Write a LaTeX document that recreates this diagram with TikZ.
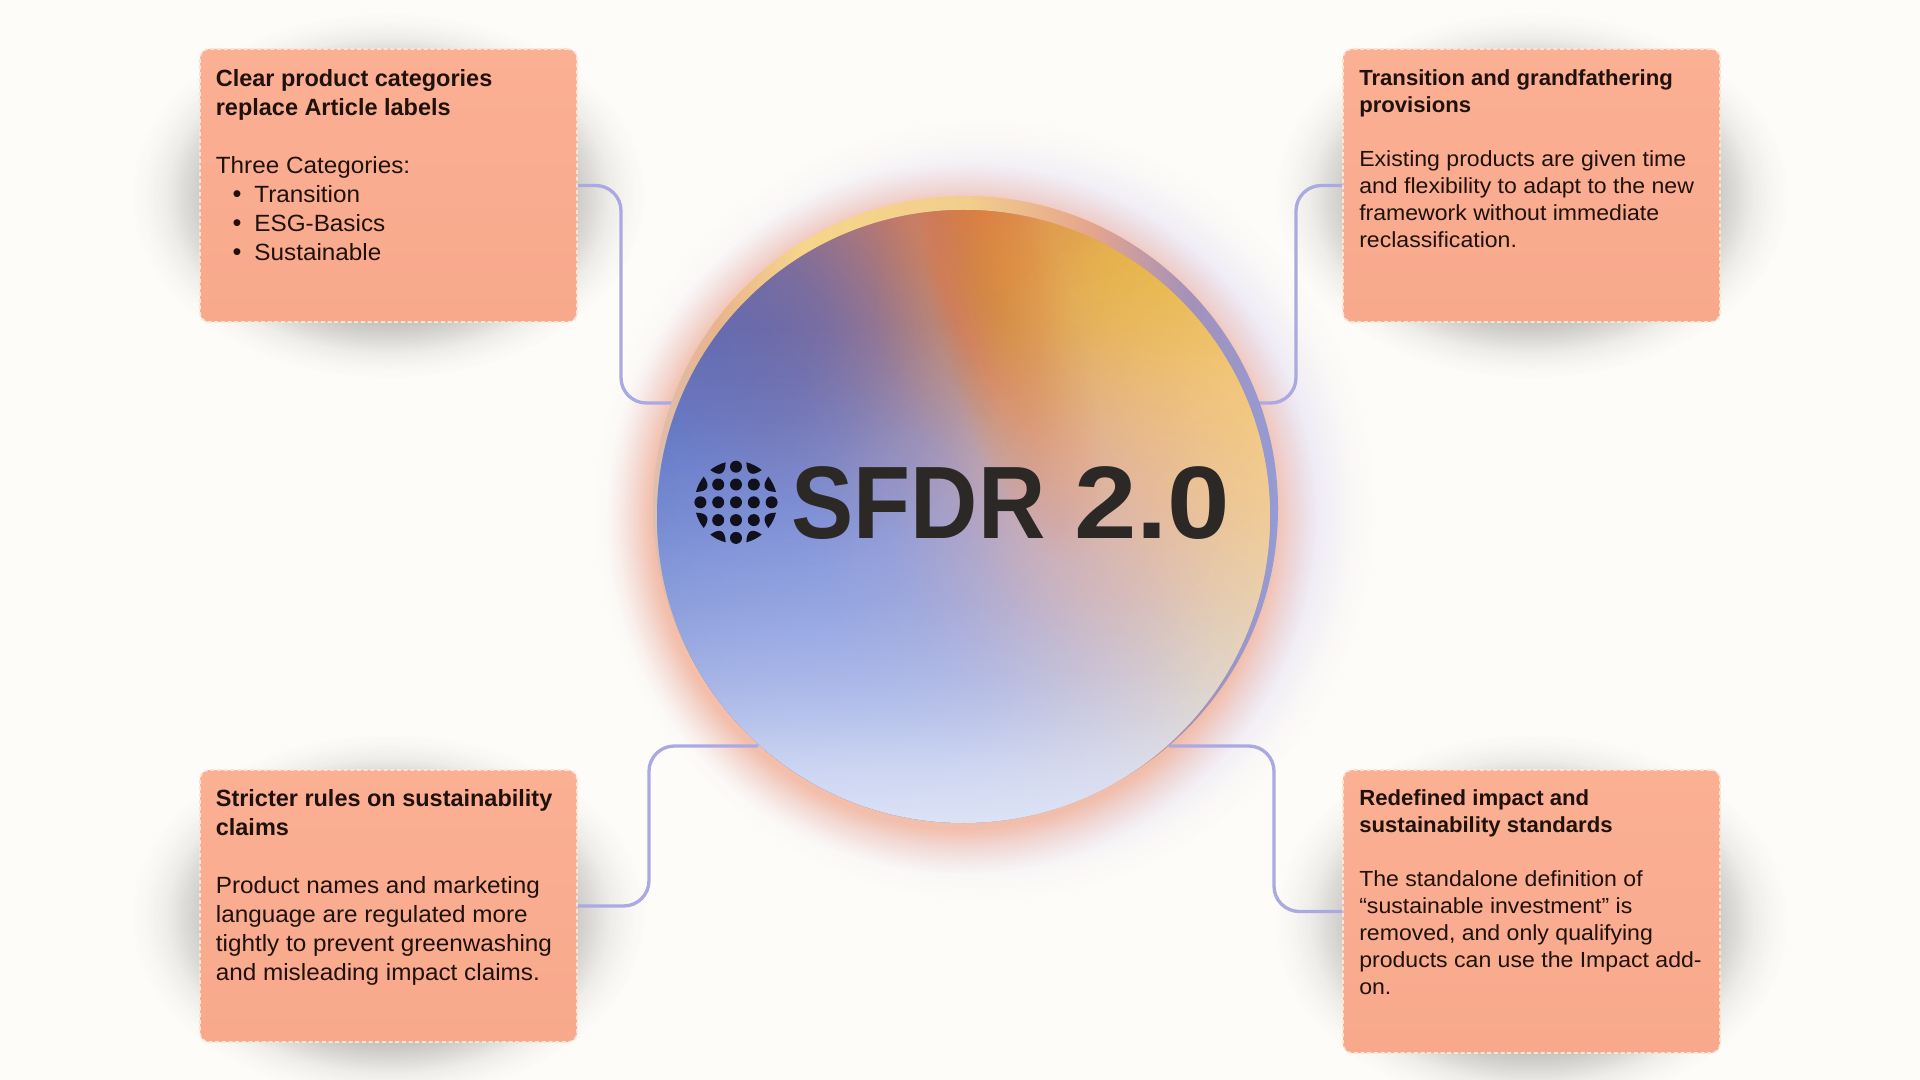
\documentclass[tikz,border=0pt]{standalone}
\usepackage{fontspec}
\usetikzlibrary{fadings,calc}
\setmainfont{Liberation Sans}
\newfontfamily\bodyf[FakeStretch=1.035]{Liberation Sans}
\newfontfamily\bodyg[FakeStretch=1.055]{Liberation Sans}
\newfontfamily\titlef[FakeStretch=1.0]{Liberation Sans}
\newfontfamily\titleg[FakeStretch=1.012]{Liberation Sans}
\newfontfamily\herof[FakeStretch=0.905]{Liberation Sans}
\newfontfamily\herog[FakeStretch=1.09]{Liberation Sans}
\definecolor{pagebg}{HTML}{FEFCF8}
\definecolor{wirec}{HTML}{ABA9E2}
\definecolor{cardtop}{HTML}{FBAF93}
\definecolor{cardbot}{HTML}{F8A98C}
\definecolor{carddash}{HTML}{FBE3D6}
\definecolor{inkc}{HTML}{1F110C}
\definecolor{heroc}{HTML}{2B2826}
\definecolor{dotc}{HTML}{10111C}
\definecolor{b0}{HTML}{5872C6}
\definecolor{b1}{HTML}{6C7AC6}
\definecolor{b2}{HTML}{A09CC4}
\definecolor{b3}{HTML}{D8B8A8}
\definecolor{b4}{HTML}{F2D090}
\definecolor{b5}{HTML}{F7D28C}
\definecolor{r0}{HTML}{DDBEB0}
\definecolor{r1}{HTML}{E8B48C}
\definecolor{r2}{HTML}{F6D68A}
\definecolor{r3}{HTML}{F2CE8C}
\definecolor{r4}{HTML}{E6A58C}
\definecolor{r5}{HTML}{A391BA}
\definecolor{r6}{HTML}{959BD5}
\definecolor{blobblue}{HTML}{7088DC}
\definecolor{bloborange}{HTML}{DC7B50}
\definecolor{blobstreak}{HTML}{EA7444}
\definecolor{blobindigo}{HTML}{5A62AE}
\definecolor{blobgold}{HTML}{E8BC42}
\definecolor{blobpeach}{HTML}{F7CC7C}
\definecolor{blobpink}{HTML}{E8A090}
\definecolor{palec}{HTML}{E1E7F8}
\definecolor{glowlav}{HTML}{C8BFF0}
\definecolor{glowora}{HTML}{F4B8A0}
\definecolor{shadowc}{HTML}{4A4A4A}
% fadings
\pgfdeclareradialshading{softgrad}{\pgfpointorigin}{color(0bp)=(pgftransparent!0);color(6bp)=(pgftransparent!12);color(12.5bp)=(pgftransparent!50);color(18bp)=(pgftransparent!82);color(25bp)=(pgftransparent!100);color(50bp)=(pgftransparent!100)}
\pgfdeclarefading{softfade}{\pgfuseshading{softgrad}}
\pgfdeclareradialshading{shadowgrad}{\pgfpointorigin}{color(0bp)=(pgftransparent!0);color(12bp)=(pgftransparent!30);color(16bp)=(pgftransparent!55);color(18bp)=(pgftransparent!67);color(20bp)=(pgftransparent!80);color(21.5bp)=(pgftransparent!90);color(23.5bp)=(pgftransparent!97);color(25bp)=(pgftransparent!100);color(50bp)=(pgftransparent!100)}
\pgfdeclarefading{shadowfade}{\pgfuseshading{shadowgrad}}
\pgfdeclareradialshading{glowagrad}{\pgfpointorigin}{color(0bp)=(pgftransparent!0);color(20bp)=(pgftransparent!0);color(22bp)=(pgftransparent!45);color(23.5bp)=(pgftransparent!82);color(25bp)=(pgftransparent!100);color(50bp)=(pgftransparent!100)}
\pgfdeclarefading{glowafade}{\pgfuseshading{glowagrad}}
\pgfdeclareradialshading{glowbgrad}{\pgfpointorigin}{color(0bp)=(pgftransparent!0);color(21.8bp)=(pgftransparent!0);color(23bp)=(pgftransparent!50);color(24.2bp)=(pgftransparent!85);color(25bp)=(pgftransparent!100);color(50bp)=(pgftransparent!100)}
\pgfdeclarefading{glowbfade}{\pgfuseshading{glowbgrad}}
% pale overlay: 25bp is the bottom of the box, 75bp the top
\pgfdeclareverticalshading{palegrad}{100bp}{color(0bp)=(pgftransparent!4);color(25bp)=(pgftransparent!4);color(30bp)=(pgftransparent!20);color(33.5bp)=(pgftransparent!36);color(37bp)=(pgftransparent!50);color(43bp)=(pgftransparent!68);color(50bp)=(pgftransparent!82);color(58bp)=(pgftransparent!93);color(66bp)=(pgftransparent!100);color(100bp)=(pgftransparent!100)}
\pgfdeclarefading{palefade}{\pgfuseshading{palegrad}}
% shadings
\pgfdeclarehorizontalshading{basegrad}{100bp}{color(0bp)=(b0);color(25bp)=(b0);color(37.5bp)=(b1);color(50bp)=(b2);color(60bp)=(b3);color(70bp)=(b4);color(75bp)=(b5);color(100bp)=(b5)}
\pgfdeclarehorizontalshading{ringgrad}{100bp}{color(0bp)=(r0);color(25bp)=(r0);color(30bp)=(r1);color(37bp)=(r2);color(50bp)=(r3);color(60bp)=(r4);color(68bp)=(r5);color(75bp)=(r6);color(100bp)=(r6)}
\newcommand\softblob[6]{\fill[#5,path fading=softfade,fill opacity=#6] (#1,#2) ellipse [x radius=#3,y radius=#4];}
\newcommand\cardshadow[4]{\fill[shadowc,path fading=shadowfade,fill opacity=0.85] (#1,#2+10) ellipse [x radius=#3+68,y radius=#4+46];}
\tikzset{
  cardbox/.style={draw=carddash,line width=1.2pt,dash pattern=on 3pt off 2pt,rounded corners=7pt,top color=cardtop,bottom color=cardbot,inner sep=0pt,minimum width=282.75pt},
  wire/.style={draw=wirec,line width=2.5pt,rounded corners=19pt},
  blurb/.style={anchor=north west,inner sep=0pt,align=left,text=inkc},
  bigtext/.style={blurb,font=\fontsize{17.6pt}{21.75pt}\selectfont},
  smalltext/.style={blurb,font=\fontsize{16.4pt}{20.25pt}\selectfont},
  herotext/.style={anchor=base,inner sep=0pt,text=heroc,font=\bfseries\fontsize{77.25pt}{80pt}\selectfont},
  dotmark/.style={fill=dotc}
}
\newcommand\firstl{\rule{0pt}{15pt}}
\newcommand\bitem[1]{\hspace{12.5pt}{\fontsize{19pt}{20pt}\selectfont\textbullet}\hspace{9.75pt}{\bodyf #1}}
\begin{document}
\begin{tikzpicture}[x=0.75pt,y=-0.75pt]
\useasboundingbox (0,0) rectangle (1920,1080);
\fill[pagebg] (0,0) rectangle (1920,1080);
% shadows
\cardshadow{388.5}{185.5}{188.5}{136.5}
\cardshadow{1531.5}{185.5}{188.5}{136.5}
\cardshadow{388.5}{906}{188.5}{136}
\cardshadow{1531.5}{911.5}{188.5}{141.5}
% glow
\fill[glowlav,fill opacity=0.35,path fading=glowafade] (985,510) circle (390);
\fill[glowora,fill opacity=0.85,path fading=glowbfade] (962,518) circle (355);
% anchors
\node[circle,inner sep=0pt,minimum size=459.75pt] (hub) at (963.5,516.5) {};
\coordinate (m1) at (621,403);
\coordinate (m2) at (1296,403);
\coordinate (m3) at (649,746);
\coordinate (m4) at (1274,746);
% cards
\node[cardbox,minimum height=204.75pt] (c1) at (388.5,185.5) {};
\node[cardbox,minimum height=204.75pt] (c2) at (1531.5,185.5) {};
\node[cardbox,minimum height=204pt] (c3) at (388.5,906) {};
\node[cardbox,minimum height=212.25pt] (c4) at (1531.5,911.5) {};
% connectors
\draw[wire] (c1.east) -- (c1.east -| m1) -- (m1) -- (m1 -| hub.158.3);
\draw[wire] (c2.west) -- (c2.west -| m2) -- (m2) -- (m2 -| hub.21.7);
\draw[wire] (c3.east) -- (c3.east -| m3) -- (m3) -- (m3 -| hub.228.5);
\draw[wire] (c4.west) -- (c4.west -| m4) -- (m4) -- (m4 -| hub.-48.5);
% ring
\shade[shading=ringgrad] (965.5,508.5) circle (312.5);
% disc
\begin{scope}
\clip (hub.center) circle (306.5);
\shade[shading=basegrad] (647,200) rectangle (1280,833);
\softblob{880}{680}{440}{440}{blobblue}{0.9}
\softblob{985}{200}{430}{340}{bloborange}{0.95}
\softblob{770}{330}{240}{240}{blobindigo}{0.6}
\foreach \k in {1,...,40}{
  \pgfmathsetmacro\s{\k/40}
  \fill[blobstreak,fill opacity=0.03,rotate around={16:(1012,340)}] (1012,340) ellipse [x radius=\s*70,y radius=\s*230];
}
\softblob{1170}{290}{300}{260}{blobgold}{0.85}
\softblob{1285}{440}{340}{270}{blobpeach}{0.85}
\softblob{1090}{530}{270}{270}{blobpink}{0.5}
\fill[palec,path fading=palefade] (647,210) rectangle (1280,823);
\end{scope}
% hub title
\node[herotext] (hero) at (1011,538) {{\herof SFDR} {\herog 2.0}};
% globe
\foreach \i in {-2,...,2}{\foreach \j in {-2,...,2}{
  \pgfmathtruncatemacro\dd{abs(\i)+abs(\j)}
  \ifnum\dd<3 \fill[dotmark] (736+\i*17.8,502.3+\j*17.8) circle (6); \fi
}}
\foreach \a in {26.57,63.43,116.57,153.43,206.57,243.43,296.57,333.43}{
  \fill[dotmark,shift={(736,502.3)},rotate=\a] (-12:41.3) arc [start angle=-12,end angle=12,radius=41.3] .. controls (6:30) and (-6:30) .. (-12:41.3) -- cycle;
}
% texts
\node[bigtext] (t1) at (215.6,66.7) {\firstl{\titlef\bfseries Clear product categories}\\{\titlef\bfseries replace Article labels}\\[21.75pt]
{\bodyf Three Categories:}\\\bitem{Transition}\\\bitem{ESG-Basics}\\\bitem{Sustainable}};
\node[smalltext] (t2) at (1359,65) {\firstl{\titleg\bfseries Transition and grandfathering}\\{\titleg\bfseries provisions}\\[20.25pt]
{\bodyg Existing products are given time}\\{\bodyg and flexibility to adapt to the new}\\{\bodyg framework without immediate}\\{\bodyg reclassification.}};
\node[bigtext] (t3) at (215.6,786.7) {\firstl{\titlef\bfseries Stricter rules on sustainability}\\{\titlef\bfseries claims}\\[21.75pt]
{\bodyf Product names and marketing}\\{\bodyf language are regulated more}\\{\bodyf tightly to prevent greenwashing}\\{\bodyf and misleading impact claims.}};
\node[smalltext] (t4) at (1359,785) {\firstl{\titleg\bfseries Redefined impact and}\\{\titleg\bfseries sustainability standards}\\[20.25pt]
{\bodyg The standalone definition of}\\{\bodyg “sustainable investment” is}\\{\bodyg removed, and only qualifying}\\{\bodyg products can use the Impact add-}\\{\bodyg on.}};
\end{tikzpicture}
\end{document}
